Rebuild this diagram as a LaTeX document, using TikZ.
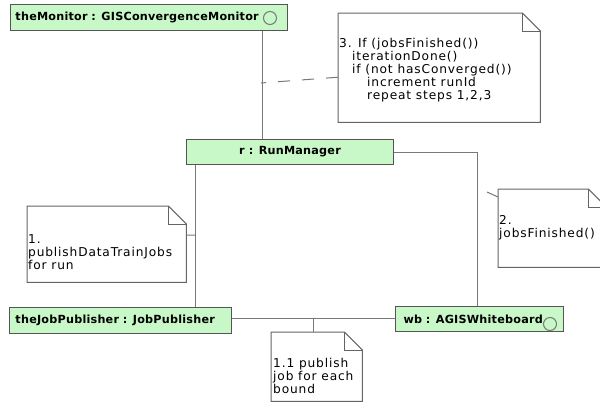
\documentclass[tikz,border=0pt]{standalone}
\usepackage{fontspec}
\setmainfont{DejaVu Sans}
\newfontfamily\objfont[LetterSpace=2]{DejaVu Sans}
\newfontfamily\notefont[LetterSpace=7]{DejaVu Sans}
\definecolor{objfill}{RGB}{200,248,200}
\definecolor{objline}{RGB}{85,85,85}
\definecolor{linkgray}{RGB}{120,120,120}
\definecolor{notegray}{RGB}{100,100,100}

\begin{document}
\begin{tikzpicture}[x=1pt, y=-1pt,
  obj/.style={draw=objline, fill=objfill, line width=1pt, rectangle, anchor=north west,
    inner ysep=0pt, font=\objfont\bfseries\fontsize{11.2}{14}\selectfont},
  ball/.style={draw=linkgray, line width=1pt, circle, minimum size=13pt, inner sep=0pt},
  note/.style={rectangle, anchor=north west, inner sep=0pt},
  notetext/.style={align=left, inner sep=0pt, anchor=north west,
    font=\notefont\fontsize{12.2}{13}\selectfont},
  notebox/.style={draw=notegray, line width=1pt, line join=miter},
  link/.style={draw=linkgray, line width=1pt}]
\useasboundingbox (0,0) rectangle (600,405);

% objects
\node (mon)[obj, minimum width=277pt, minimum height=26pt, inner xsep=5pt, text width=267pt, align=left] at (10,4) {theMonitor : GISConvergenceMonitor};
\node (run)[obj, minimum width=207pt, minimum height=25pt] at (186,139) {r : RunManager};
\node (pub)[obj, minimum width=222pt, minimum height=26pt, inner xsep=6pt, text width=210pt, align=left] at (9,307) {theJobPublisher : JobPublisher};
\node (wb)[obj, minimum width=168pt, minimum height=25pt, inner xsep=8pt, text width=152pt, align=left] at (395,306) {wb : AGISWhiteboard};
\node (monc)[ball] at (270,18) {};
\node (wbc)[ball] at (550,324) {};

% links
\coordinate (mr) at ([xshift=-26pt]mon.south east);
\coordinate (rw) at ([yshift=-13pt]run.north east);
\coordinate (wt) at ([xshift=82pt]wb.north west);
\coordinate (rp) at ([xshift=9pt]run.south west);
\coordinate (pw) at ([yshift=-11pt]pub.north east);
\draw[link] (mr) -- (mr |- run.north);
\draw[link] (rw) -| (wt);
\draw[link] (rp) -- (rp |- pub.north);
\draw[link] (pw) -- (pw -| wb.west);

% notes
\node (n3)[note, minimum width=202pt, minimum height=109pt] at (338,13) {};
\node (n2)[note, minimum width=108pt, minimum height=78pt] at (498,189) {};
\node (n1)[note, minimum width=159pt, minimum height=76pt] at (27,206) {};
\node (n11)[note, minimum width=91pt, minimum height=69pt] at (271,332) {};
\foreach \n in {n3,n2,n1,n11} {
  \draw[notebox] (\n.south west) -- (\n.north west) -- ([xshift=-18pt]\n.north east)
    -- ([yshift=-18pt]\n.north east) -- (\n.south east) -- cycle;
  \draw[notebox] ([xshift=-18pt]\n.north east) |- ([yshift=-18pt]\n.north east);
}
\node (n3t)[notetext] at (339,38) {3. If (jobsFinished())\\\hspace*{13pt}iterationDone()\\\hspace*{13pt}if (not hasConverged())\\\hspace*{28pt}increment runId\\\hspace*{28pt}repeat steps 1,2,3};
\node (n2t)[notetext] at (499,215) {2.\\jobsFinished()};
\node (n1t)[notetext] at (28,234) {1.\\publishDataTrainJobs\\for run};
\node (n11t)[notetext] at (273,358) {1.1 publish\\job for each\\bound};

% note links
\coordinate (d3) at (261,83);
\coordinate (d2) at (487,192);
\coordinate (d1) at (195,235);
\coordinate (d11) at (313,318);
\draw[link, dash pattern=on 12pt off 12pt] ([yshift=-9.5pt]n3.west) -- (d3);
\draw[link] (d2) -- ([yshift=-8pt]n2.north west);
\draw[link] ([yshift=9pt]n1.east) -- (d1);
\draw[link] (d11) -- (d11 |- n11.north);

\end{tikzpicture}
\end{document}
